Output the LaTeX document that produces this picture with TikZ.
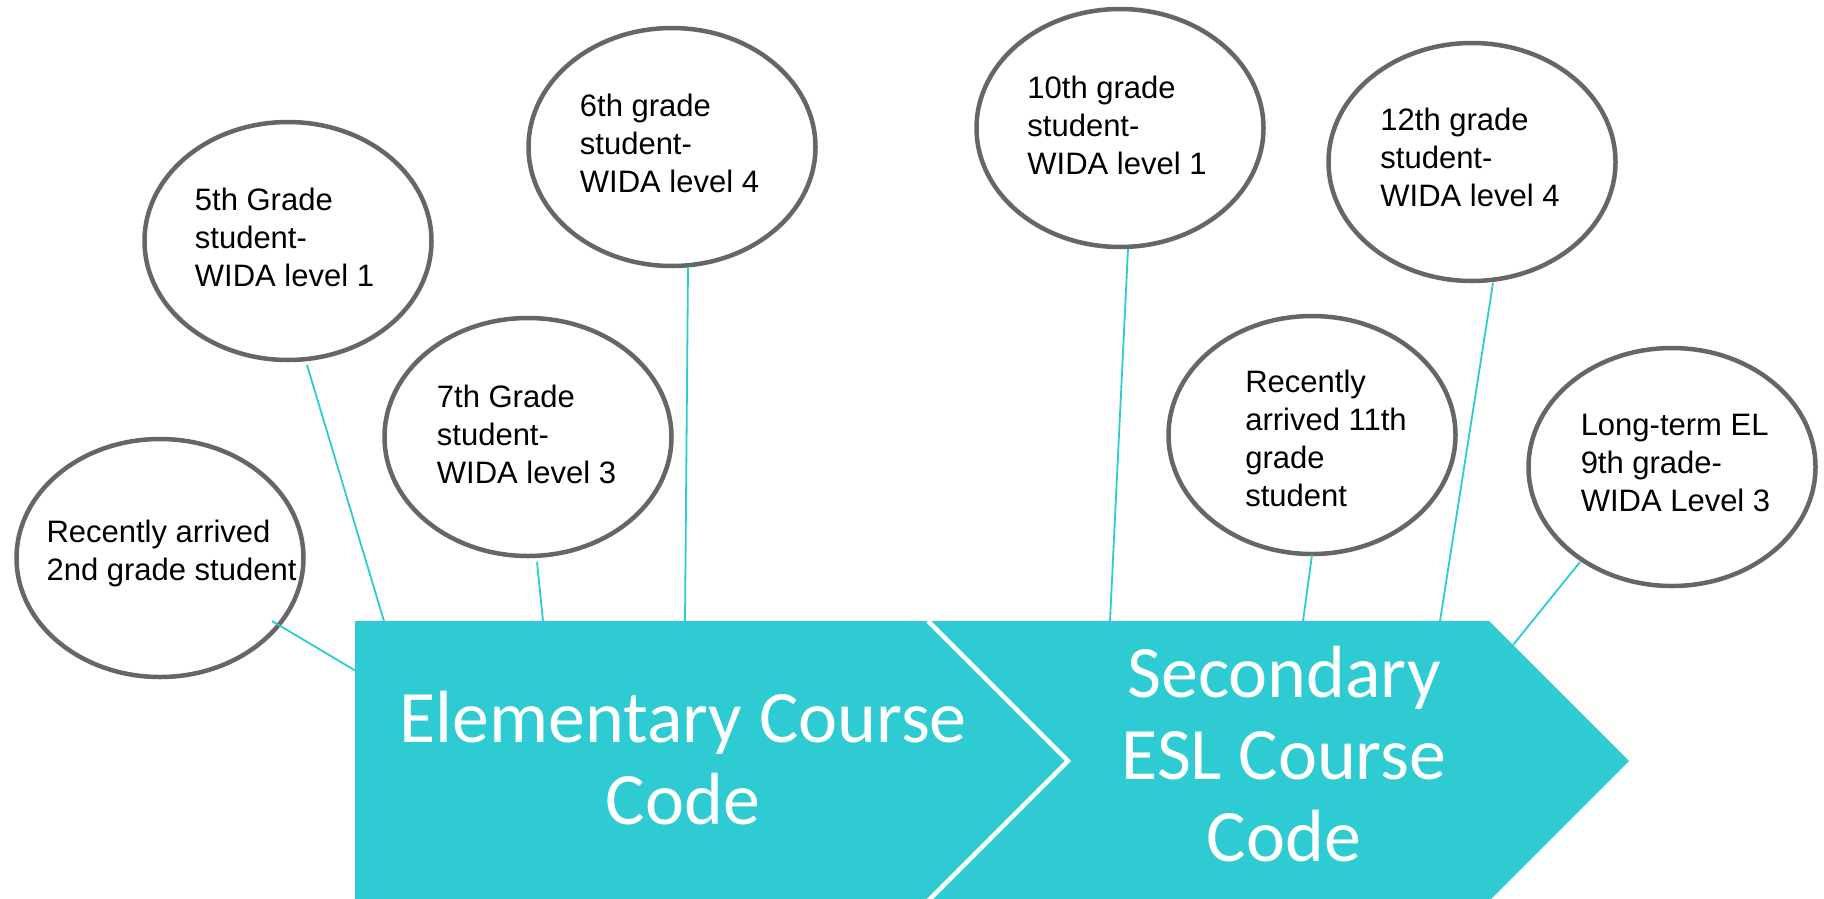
\documentclass[tikz,border=0pt]{standalone}
\usepackage{fontspec}
\setmainfont{Liberation Sans}
\newfontfamily\chevfont{Carlito}
\usetikzlibrary{shapes.geometric}
\definecolor{teal1}{RGB}{46,203,211}
\definecolor{ringgray}{RGB}{102,102,102}
\begin{document}
\begin{tikzpicture}[x=1pt,y=-1pt,
  bubble/.style={ellipse, draw=ringgray, line width=4.5pt, fill=white, minimum width=287pt, minimum height=238pt, inner sep=0pt},
  bubbletext/.style={align=left, font=\fontsize{31}{38}\selectfont, inner sep=0pt, text=black},
  conn/.style={draw=teal1, line width=1.8pt},
  chevtext/.style={align=center, font=\chevfont\fontsize{74}{82}\selectfont, text=white, inner sep=0pt}]
\useasboundingbox (0,0) rectangle (1824,898);
\fill[white] (0,0) rectangle (1824,898);

% chevron corners
\coordinate (p1) at (355,621);
\coordinate (p2) at (928,621);
\coordinate (p3) at (1068,761);
\coordinate (p4) at (928,901);
\coordinate (p5) at (355,901);
\coordinate (q2) at (1489,621);
\coordinate (q3) at (1629,761);
\coordinate (q4) at (1489,901);

\fill[teal1] (p1) -- (p2) -- (p3) -- (p4) -- (p5) -- cycle;
\fill[teal1] (p2) -- (q2) -- (q3) -- (q4) -- (p4) -- (p3) -- cycle;
\draw[white, line width=4.5pt] (p2) -- (p3) -- (p4);

\node[chevtext] (elem) at (683,758) {Elementary Course\\Code};
\node[chevtext] (sec) at (1284,754) {Secondary\\ESL Course\\Code};

% bubbles
\node[bubble] (e1) at (160,558) {};
\node[bubble] (e2) at (288,241) {};
\node[bubble] (e3) at (528,437) {};
\node[bubble] (e4) at (672,147) {};
\node[bubble] (e5) at (1120,128) {};
\node[bubble] (e6) at (1312,435) {};
\node[bubble] (e7) at (1472,162) {};
\node[bubble] (e8) at (1672,467) {};

\node[bubbletext] (t1) at (171.5,553) {Recently arrived\\2nd grade student};
\node[bubbletext] (t2) at (284.5,237) {5th Grade\\student-\\WIDA level 1};
\node[bubbletext] (t3) at (526.5,434) {7th Grade\\student-\\WIDA level 3};
\node[bubbletext] (t4) at (669.5,143) {6th grade\\student-\\WIDA level 4};
\node[bubbletext] (t5) at (1117,125) {10th grade\\student-\\WIDA level 1};
\node[bubbletext] (t6) at (1326,438.5) {Recently\\arrived 11th\\grade\\student};
\node[bubbletext] (t7) at (1470,157) {12th grade\\student-\\WIDA level 4};
\node[bubbletext] (t8) at (1675.5,462.5) {Long-term EL\\9th grade-\\WIDA Level 3};

% connector end points on the chevrons
\coordinate (a1) at (356,671);
\coordinate (a2) at (384,621);
\coordinate (a3) at (543,621);
\coordinate (a4) at (685,621);
\coordinate (a5) at (1110,621);
\coordinate (a6) at (1303,621);
\coordinate (a7) at (1440,621);
\coordinate (a8) at (1513,645);

\draw[conn] ([shift={(112,63)}]e1.center) -- (a1);
\draw[conn] ([shift={(19,124)}]e2.center) -- (a2);
\draw[conn] ([shift={(9,125)}]e3.center) -- (a3);
\draw[conn] ([shift={(16,121)}]e4.center) -- (a4);
\draw[conn] ([shift={(8,121)}]e5.center) -- (a5);
\draw[conn] ([shift={(0,120)}]e6.center) -- (a6);
\draw[conn] ([shift={(21,121)}]e7.center) -- (a7);
\draw[conn] ([shift={(-92,95)}]e8.center) -- (a8);
\end{tikzpicture}
\end{document}
